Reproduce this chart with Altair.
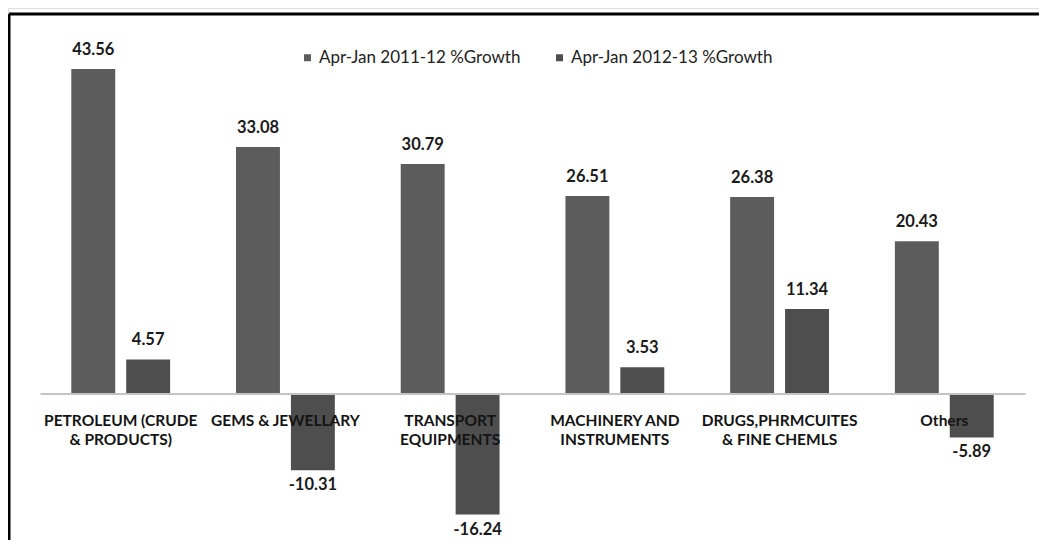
import altair as alt
import pandas as pd

categories = [
    "PETROLEUM (CRUDE|& PRODUCTS)",
    "GEMS & JEWELLARY",
    "TRANSPORT|EQUIPMENTS",
    "MACHINERY AND|INSTRUMENTS",
    "DRUGS,PHRMCUITES|& FINE CHEMLS",
    "Others",
]
series = ["Apr-Jan 2011-12 %Growth", "Apr-Jan 2012-13 %Growth"]
growth_2011_12 = [43.56, 33.08, 30.79, 26.51, 26.38, 20.43]
growth_2012_13 = [4.57, -10.31, -16.24, 3.53, 11.34, -5.89]
colors = ["#5c5c5c", "#4e4e4e"]

rows = []
for c, a, b in zip(categories, growth_2011_12, growth_2012_13):
    rows.append({"category": c, "series": series[0], "value": a})
    rows.append({"category": c, "series": series[1], "value": b})
df = pd.DataFrame(rows)

W, H = 1031, 532
FONT = "Lato"

xscale = alt.Scale(domain=categories, range=[32, 1017], paddingInner=0.4, paddingOuter=0.19)
yscale = alt.Scale(domain=[-19.66, 51.74], nice=False, zero=False)
xoff = alt.XOffset("series:N", sort=series, scale=alt.Scale(paddingInner=0.2, paddingOuter=0))
label_expr = "(datum.value < 0 ? '-' : '') + format(abs(datum.value), '.2f')"

bars = alt.Chart(df).mark_bar().encode(
    x=alt.X(
        "category:N",
        sort=categories,
        scale=xscale,
        axis=alt.Axis(
            title=None,
            offset=-146.5,
            ticks=False,
            tickSize=0,
            domainColor="#c4c4c4",
            domainWidth=2,
            labelAngle=0,
            labelExpr="split(datum.label, '|')",
            labelFont=FONT,
            labelFontWeight="bold",
            labelFontSize=15.5,
            labelColor="#141414",
            labelLineHeight=19,
            labelPadding=20,
            labelLimit=300,
            zindex=1,
        ),
    ),
    xOffset=xoff,
    y=alt.Y("value:Q", scale=yscale, axis=None),
    color=alt.Color(
        "series:N",
        sort=series,
        scale=alt.Scale(domain=series, range=colors),
        legend=alt.Legend(
            title=None,
            orient="none",
            legendX=291,
            legendY=41,
            direction="horizontal",
            symbolType="square",
            symbolSize=49,
            symbolStrokeWidth=0,
            labelFont=FONT,
            labelFontSize=17,
            labelColor="#222222",
            labelLimit=400,
            columnPadding=30,
            labelOffset=3,
        ),
    ),
)

pos_labels = alt.Chart(df).transform_filter("datum.value >= 0").transform_calculate(
    lbl=label_expr
).mark_text(
    font=FONT, fontWeight="bold", fontSize=16.5, color="#1a1a1a", baseline="middle", dy=-19
).encode(
    x=alt.X("category:N", sort=categories, scale=xscale),
    xOffset=xoff,
    y=alt.Y("value:Q", scale=yscale),
    text="lbl:N",
)

neg_labels = alt.Chart(df).transform_filter("datum.value < 0").transform_calculate(
    lbl=label_expr
).mark_text(
    font=FONT, fontWeight="bold", fontSize=16.5, color="#1a1a1a", baseline="middle", dy=15
).encode(
    x=alt.X("category:N", sort=categories, scale=xscale),
    xOffset=xoff,
    y=alt.Y("value:Q", scale=yscale),
    text="lbl:N",
)

frame_df = pd.DataFrame({"k": [0]})
top_border = alt.Chart(frame_df).mark_rule(color="#000000", strokeWidth=3).encode(
    x=alt.value(1), x2=alt.value(W), y=alt.value(6)
)
left_border = alt.Chart(frame_df).mark_rule(color="#000000", strokeWidth=3).encode(
    x=alt.value(1), y=alt.value(6), y2=alt.value(H)
)

chart = (
    alt.layer(bars, pos_labels, neg_labels, top_border, left_border)
    .properties(width=W, height=H, autosize=alt.AutoSizeParams(type="none"), padding=0)
    .configure_view(stroke=None)
    .configure(background="#ffffff")
)

chart.save("out.html", embed_options={"renderer": "svg", "actions": False})
